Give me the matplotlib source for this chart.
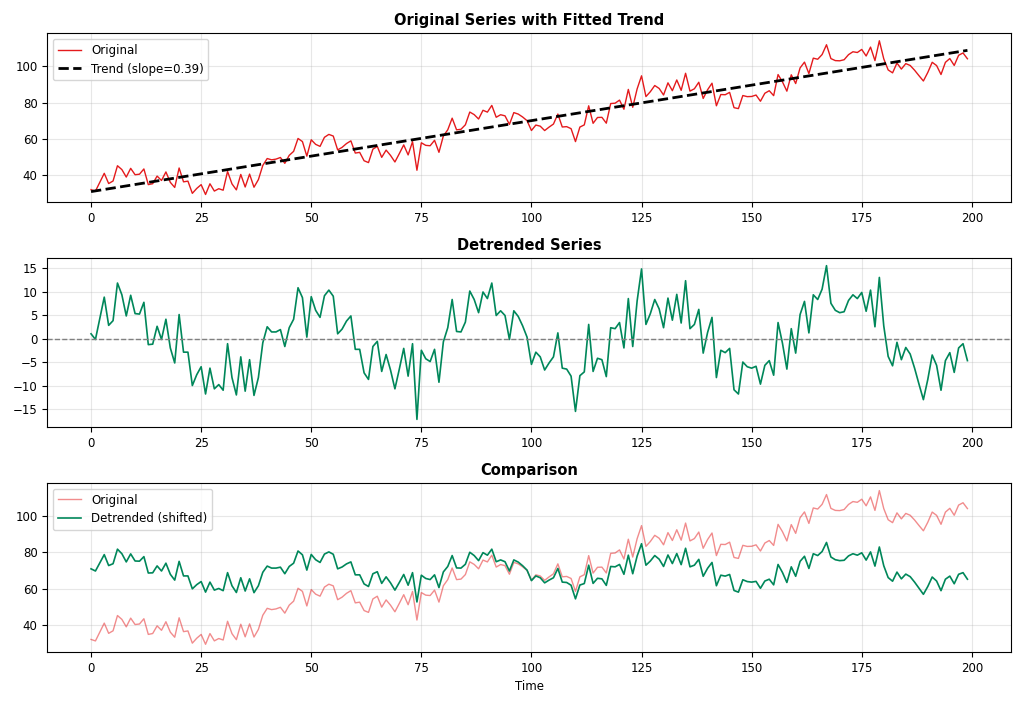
import numpy as np
import matplotlib.pyplot as plt

plt.rcParams['font.size'] = 8.5

# detrended values
detrended = np.array([
    1.2, 0, 4.5, 9, 3, 4, 12, 9.5, 5, 9.4,
    5.5, 5.4, 7.9, -1.1, -1, 2.8, 0, 4.3, -1.8, -5,
    5.3, -2.7, -2.7, -9.8, -7.5, -5.8, -11.6, -6.1, -10.5, -9.6,
    -10.8, -0.9, -8.1, -11.8, -3.7, -11, -4.3, -11.9, -8.1, -0.7,
    2.7, 1.6, 1.6, 2.1, -1.5, 2.5, 4.3, 11, 8.9, 0.5,
    9.1, 6.2, 4.7, 9.3, 10.5, 9.2, 1.2, 2.2, 3.9, 5,
    -2.1, -2.1, -7.1, -8.5, -1.5, -0.4, -6.8, -3.2, -6.5, -10.5,
    -6.3, -1.9, -7.8, -0.9, -17, -2.3, -4.1, -4.7, -2.1, -9.1,
    -0.5, 2.5, 8.5, 1.7, 1.6, 3.7, 10.3, 8.5, 5.7, 10.1,
    8.7, 12, 5.1, 6.1, 5.1, 0, 6.1, 4.9, 2.9, 0.5,
    -5.3, -2.7, -3.7, -6.5, -5, -3.7, 1.4, -6.1, -6.3, -7.8,
    -15.3, -7.7, -6.9, 3.2, -6.8, -4, -4.3, -7.9, 2.5, 2.3,
    3.6, -1.8, 8.7, -1.5, 8.2, 15, 3.2, 5.5, 8.5, 6.5,
    2.5, 8.8, 4.1, 9.6, 3.5, 12.5, 2.3, 3.2, 6.4, -2.9,
    1.5, 4.7, -8.1, -2.3, -2.8, -1.9, -10.7, -11.6, -4.8, -5.8,
    -6.1, -5.7, -9.5, -5.5, -4.5, -7.6, 3.6, -0.8, -6.3, 2.3,
    -2.9, 5.3, 8.1, 1.4, 9.5, 8.5, 10.7, 15.7, 7.7, 6.2,
    5.7, 5.9, 8.3, 9.5, 8.7, 10, 6, 10.5, 2.7, 13.2,
    2.9, -3.6, -5.6, -0.6, -4.3, -1.7, -3.1, -6.1, -9.5, -12.8,
    -8.5, -3.3, -5.5, -10.8, -4.5, -2.8, -7, -1.8, -0.9, -4.5,
])
trend_intercept = 31.0
trend_slope = 0.39

t = np.arange(len(detrended))
original = detrended + trend_intercept + trend_slope * t

coef = np.polyfit(t, original, 1)
trend = np.polyval(coef, t)
resid = original - trend
shifted = resid + original.mean()

red = '#e41a1c'
green = '#00875a'

fig, axes = plt.subplots(3, 1, figsize=(10.24, 7.06), dpi=100)

ax = axes[0]
ax.plot(t, original, color=red, lw=1, label='Original')
ax.plot(t, trend, 'k--', lw=2, label=f'Trend (slope={coef[0]:.2f})')
ax.set_title('Original Series with Fitted Trend', fontweight='bold', fontsize=10.5)
ax.legend(loc='upper left')
ax.grid(alpha=0.3)

ax = axes[1]
ax.plot(t, resid, color=green, lw=1.2)
ax.axhline(0, color='gray', ls='--', lw=1)
ax.set_title('Detrended Series', fontweight='bold', fontsize=10.5)
ax.set_yticks([-15, -10, -5, 0, 5, 10, 15])
ax.grid(alpha=0.3)

ax = axes[2]
ax.plot(t, original, color=red, lw=1, alpha=0.5, label='Original')
ax.plot(t, shifted, color=green, lw=1.2, label='Detrended (shifted)')
ax.set_title('Comparison', fontweight='bold', fontsize=10.5)
ax.set_xlabel('Time')
ax.legend(loc='upper left')
ax.grid(alpha=0.3)

plt.tight_layout()
plt.savefig('out.png')
